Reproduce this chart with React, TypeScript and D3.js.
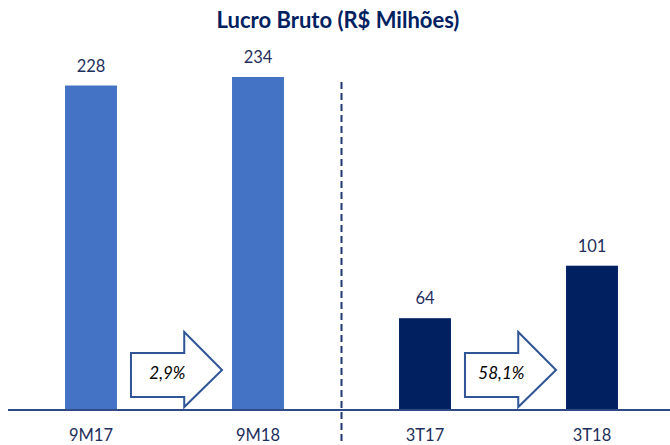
import React from "react";
import { scaleBand, scaleLinear } from "d3";

const svgWidth = 670;
const svgHeight = 445;
const baseY = 409;
const font = "Lato, 'Open Sans', sans-serif";

const categories = ["9M17", "9M18", "3T17", "3T18"];
const values = [228, 234, 64, 101];
const barColors = ["#4472C4", "#4472C4", "#002060", "#002060"];
const growthLabels = ["2,9%", "58,1%"];
const growthPairs = [
  [0, 1],
  [2, 3],
];

const xScale = scaleBand<string>()
  .domain(categories)
  .range([7.5, 675.5])
  .paddingInner(0.689)
  .paddingOuter(0.3445);

const yScale = scaleLinear().domain([0, 234]).range([baseY, 77]);

// arrow outline between two bars
function arrowPath(x0: number, x1: number) {
  const headX = x0 + (x1 - x0) * 0.585;
  const bodyTop = 353;
  const bodyBottom = 397;
  const headTop = 332;
  const headBottom = 407;
  const midY = 370;
  return `M${x0},${bodyTop} L${headX},${bodyTop} L${headX},${headTop} L${x1},${midY} L${headX},${headBottom} L${headX},${bodyBottom} L${x0},${bodyBottom} Z`;
}

export default function App() {
  const bw = xScale.bandwidth();
  const divider = (xScale("9M18")! + bw + xScale("3T17")!) / 2;
  return (
    <svg
      width={svgWidth}
      height={svgHeight}
      style={{ position: "absolute", left: 0, top: 0, background: "#fff" }}
    >
      <text
        x={338}
        y={28}
        textAnchor="middle"
        fontFamily={font}
        fontWeight="bold"
        fontSize={22}
        fill="#002060"
      >
        Lucro Bruto (R$ Milhões)
      </text>
      {categories.map((c, i) => (
        <g key={c}>
          <rect
            x={xScale(c)}
            y={yScale(values[i])}
            width={bw}
            height={baseY - yScale(values[i])}
            fill={barColors[i]}
          />
          <text
            x={xScale(c)! + bw / 2}
            y={yScale(values[i]) - 14}
            textAnchor="middle"
            fontFamily={font}
            fontSize={16.5}
            fill="#1F2F5C"
          >
            {values[i]}
          </text>
          <text
            x={xScale(c)! + bw / 2}
            y={441}
            textAnchor="middle"
            fontFamily={font}
            fontSize={16.5}
            fill="#1F2F5C"
          >
            {c}
          </text>
        </g>
      ))}
      <line
        x1={8}
        x2={svgWidth}
        y1={baseY + 1}
        y2={baseY + 1}
        stroke="#2F4A84"
        strokeWidth={2}
      />
      <line
        x1={divider}
        x2={divider}
        y1={82}
        y2={svgHeight}
        stroke="#1F3870"
        strokeWidth={2}
        strokeDasharray="7,4"
      />
      {growthPairs.map(([a, b], i) => {
        const x0 = xScale(categories[a])! + bw + 14;
        const x1 = xScale(categories[b])! - 10;
        return (
          <g key={i}>
            <path
              d={arrowPath(x0, x1)}
              fill="#fff"
              stroke="#2F5597"
              strokeWidth={2}
              strokeLinejoin="miter"
            />
            <text
              x={x0 + (x1 - x0) * 0.4}
              y={379}
              textAnchor="middle"
              fontFamily={font}
              fontStyle="italic"
              fontSize={17}
              fill="#000"
            >
              {growthLabels[i]}
            </text>
          </g>
        );
      })}
    </svg>
  );
}
